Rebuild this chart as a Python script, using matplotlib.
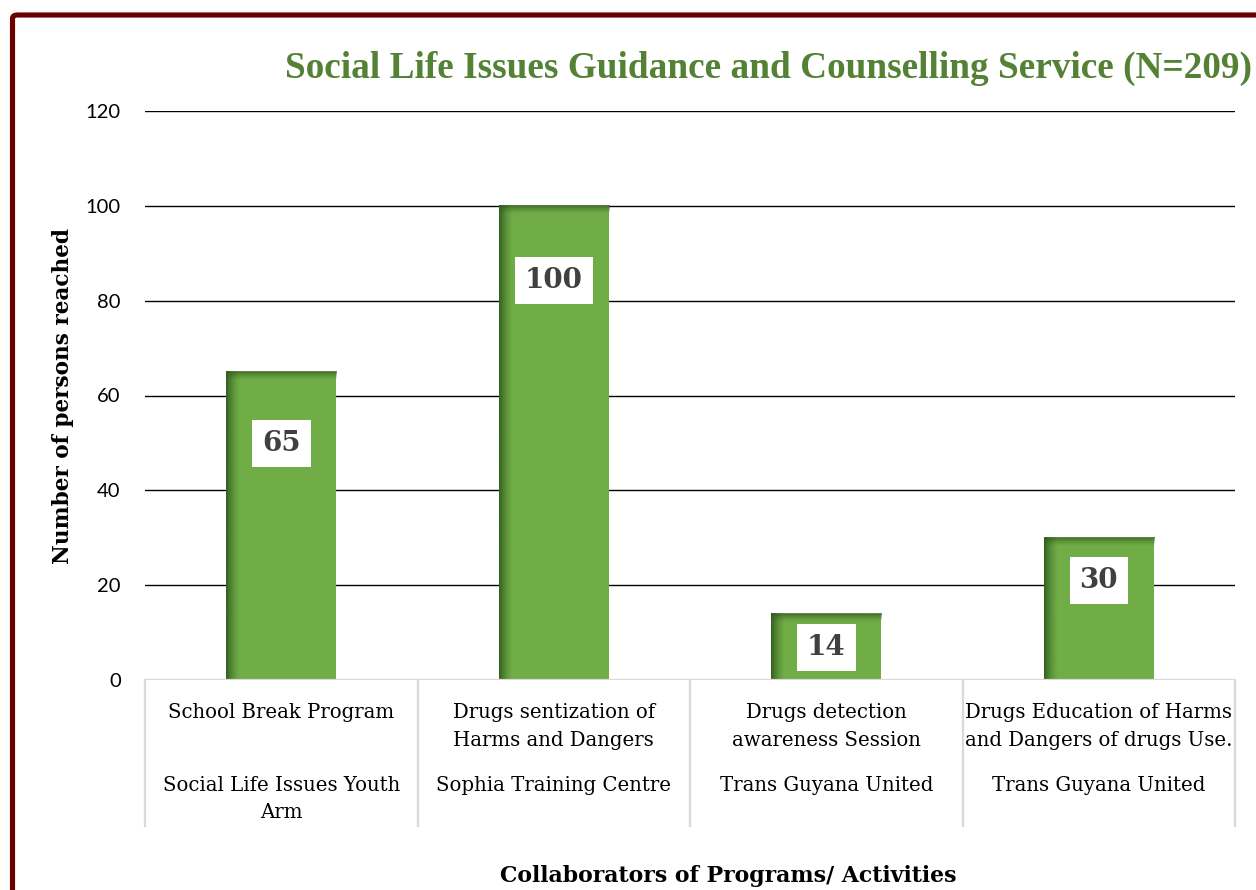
import numpy as np
import matplotlib
matplotlib.use("Agg")
import matplotlib.pyplot as plt
from matplotlib import transforms
from matplotlib.colors import to_rgb
from matplotlib.patches import FancyBboxPatch

# programs / collaborators / persons reached
programs = [
    "School Break Program",
    "Drugs sentization of\nHarms and Dangers",
    "Drugs detection\nawareness Session",
    "Drugs Education of Harms\nand Dangers of drugs Use.",
]
collaborators = [
    "Social Life Issues Youth\nArm",
    "Sophia Training Centre",
    "Trans Guyana United",
    "Trans Guyana United",
]
persons = [65, 100, 14, 30]
yticks = [0, 20, 40, 60, 80, 100, 120]

# how far below the bar top each value box sits (pixels)
label_drop_px = [72, 75, 34, 43]

W, H, DPI = 1256, 890, 100
BAR_GREEN = "#70ad47"
SHADOW = "#2f5a1c"
TITLE_GREEN = "#548235"
SEP_GRAY = "#d9d9d9"
SERIF = ["DejaVu Serif"]


def px_x(x):
    return x / W


def px_y(y):
    return (H - y) / H


def shade_bar(ax, x0, x1, top):
    """Inner shadow along the left and top edges of one bar."""
    p0 = ax.transData.transform((x0, 0))
    p1 = ax.transData.transform((x1, top))
    w = max(int(round(p1[0] - p0[0])), 1)
    h = max(int(round(p1[1] - p0[1])), 1)
    xs = np.arange(w)[None, :]
    ys = np.arange(h)[:, None]
    a_left = np.clip(1 - xs / 14.0, 0, 1) ** 1.5 * 0.9
    a_top = np.clip(1 - ys / 9.0, 0, 1) ** 1.5 * 0.75
    alpha = 1 - (1 - a_left) * (1 - a_top)
    rgba = np.zeros((h, w, 4))
    rgba[..., :3] = to_rgb(SHADOW)
    rgba[..., 3] = alpha
    ax.imshow(rgba, extent=(x0, x1, 0, top), origin="upper", aspect="auto",
              interpolation="bilinear", zorder=3)


fig = plt.figure(figsize=(W / DPI, H / DPI), dpi=DPI)

# dark red frame, running off the right and bottom edges
frame = FancyBboxPatch((px_x(12.5), -0.05), 1.2, px_y(15) + 0.05,
                       boxstyle="round,pad=0,rounding_size=0.004",
                       transform=fig.transFigure, fill=False,
                       edgecolor="#6b0000", linewidth=3.7, zorder=0)
fig.patches.append(frame)

ax = fig.add_axes([px_x(145), px_y(680), (1235 - 145) / W, (680 - 111) / H])
x = np.arange(len(persons))
bar_w = 0.404

ax.set_xlim(-0.5, len(persons) - 0.5)
ax.set_ylim(0, 120)

for yt in yticks[1:]:
    ax.axhline(yt, color="black", linewidth=1.0, zorder=1)
ax.axhline(0, color=SEP_GRAY, linewidth=1.6, zorder=4)

ax.bar(x, persons, width=bar_w, color=BAR_GREEN, zorder=2)
for xi, v in zip(x, persons):
    shade_bar(ax, xi - bar_w / 2, xi + bar_w / 2, v)
ax.set_xlim(-0.5, len(persons) - 0.5)
ax.set_ylim(0, 120)

# value boxes
for xi, v, drop in zip(x, persons, label_drop_px):
    ax.annotate(f"{v}", (xi, v), xytext=(0, -drop * 72 / DPI),
                textcoords="offset points", ha="center", va="center",
                fontsize=20, fontweight="bold", family=SERIF, color="#404040",
                bbox=dict(boxstyle="square,pad=0.36", fc="white", ec="none"),
                zorder=6)

ax.set_yticks(yticks)
ax.set_yticklabels([str(t) for t in yticks], family=["Lato", "DejaVu Sans"],
                   fontsize=14.5)
ax.tick_params(axis="y", length=0, pad=17.5)
ax.set_xticks([])
for s in ax.spines.values():
    s.set_visible(False)

# two-row category table under the axis
trans = transforms.blended_transform_factory(ax.transData, ax.transAxes)
table_bottom = -(826 - 680) / (680 - 111)
for b in np.arange(len(persons) + 1) - 0.5:
    ax.plot([b, b], [0, table_bottom], color=SEP_GRAY, linewidth=1.6,
            transform=trans, clip_on=False, zorder=4)

row1_top = -(703 - 680) / (680 - 111)
row2_top = -(776 - 680) / (680 - 111)
for xi, prog, coll in zip(x, programs, collaborators):
    ax.text(xi, row1_top, prog, transform=trans, ha="center", va="top",
            fontsize=14.2, family=SERIF, linespacing=1.6)
    ax.text(xi, row2_top, coll, transform=trans, ha="center", va="top",
            fontsize=14.2, family=SERIF, linespacing=1.55)

fig.text(px_x(285), px_y(78), "Social Life Issues Guidance and Counselling Service (N=209)",
         ha="left", va="baseline", fontsize=26.8, fontweight="bold",
         family=["Liberation Serif"], color=TITLE_GREEN)

fig.text(px_x(63), px_y(396), "Number of persons reached", rotation=90,
         ha="center", va="center", fontsize=15.6, fontweight="bold", family=SERIF)
fig.text(px_x(728), px_y(876), "Collaborators of Programs/ Activities",
         ha="center", va="center", fontsize=15.8, fontweight="bold", family=SERIF)

fig.savefig("out.png", dpi=DPI)
